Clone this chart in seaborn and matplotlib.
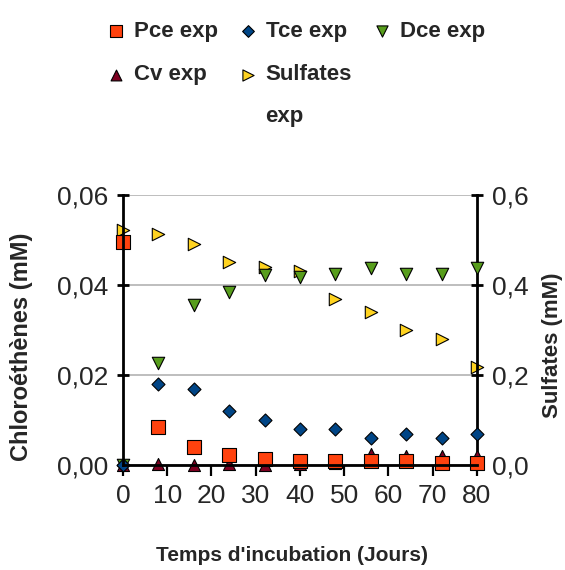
import matplotlib
matplotlib.use("Agg")
import matplotlib.pyplot as plt
import pandas as pd
import seaborn as sns

# data
days = [0, 8, 16, 24, 32, 40, 48, 56, 64, 72, 80]
pce = [0.0496, 0.0084, 0.0039, 0.0022, 0.0013, 0.0010, 0.0010, 0.0008, 0.0008, 0.0005, 0.0005]
tce = [0.0, 0.0179, 0.0170, 0.0120, 0.0100, 0.0079, 0.0079, 0.0061, 0.0069, 0.0061, 0.0069]
dce = [0.0, 0.0226, 0.0356, 0.0385, 0.0422, 0.0418, 0.0424, 0.0437, 0.0424, 0.0424, 0.0437]
cv = [0.0, 0.0002, 0.0001, 0.0002, 0.0, 0.0003, 0.0004, 0.0025, 0.0020, 0.0019, 0.0020]
sulfates = [0.522, 0.513, 0.490, 0.450, 0.439, 0.432, 0.370, 0.341, 0.300, 0.279, 0.218]

x_ticks = [0, 10, 20, 30, 40, 50, 60, 70, 80]
left_ticks = [0.0, 0.02, 0.04, 0.06]
left_labels = ["0,00", "0,02", "0,04", "0,06"]
right_ticks = [0.0, 0.2, 0.4, 0.6]
right_labels = ["0,0", "0,2", "0,4", "0,6"]

df = pd.DataFrame({
    "Jours": days,
    "Pce exp": pce,
    "Tce exp": tce,
    "Dce exp": dce,
    "Cv exp": cv,
    "Sulfates exp": sulfates,
})

sns.set_style("white")
plt.rcParams["font.family"] = ["Liberation Sans", "DejaVu Sans"]

fig = plt.figure(figsize=(5.65, 5.7), dpi=100)
ax = fig.add_axes([0.2177, 0.1842, 0.6265, 0.4737])
ax2 = ax.twinx()
ax.set_zorder(ax2.get_zorder() + 1)
ax.patch.set_visible(False)

edge = dict(edgecolor="black", linewidth=0.8, clip_on=False, legend=False)

# secondary axis: sulfates
sns.scatterplot(data=df, x="Jours", y="Sulfates exp", ax=ax2, marker=">",
                s=80, color="#ffd320", **edge)

# primary axis: chloroethenes
sns.scatterplot(data=df, x="Jours", y="Cv exp", ax=ax, marker="^",
                s=75, color="#7e0021", **edge)
sns.scatterplot(data=df, x="Jours", y="Dce exp", ax=ax, marker="v",
                s=80, color="#579d1c", **edge)
sns.scatterplot(data=df, x="Jours", y="Tce exp", ax=ax, marker="D",
                s=44, color="#004586", **edge)
sns.scatterplot(data=df, x="Jours", y="Pce exp", ax=ax, marker="s",
                s=88, color="#ff420e", **edge)

cv_h, dce_h, tce_h, pce_h = ax.collections[:4]
sulf_h = ax2.collections[0]

ax.set_xlim(0, 80)
ax.set_ylim(0, 0.06)
ax2.set_ylim(0, 0.6)
ax.set_xticks(x_ticks)
ax.set_yticks(left_ticks)
ax.set_yticklabels(left_labels)
ax2.set_yticks(right_ticks)
ax2.set_yticklabels(right_labels)

ax2.yaxis.grid(True, color="#b3b3b3", linewidth=1.2)
ax.grid(False)

for s in ["top", "right"]:
    ax.spines[s].set_visible(False)
for s in ["top", "left", "bottom"]:
    ax2.spines[s].set_visible(False)
for sp in [ax.spines["left"], ax.spines["bottom"], ax2.spines["right"]]:
    sp.set_color("black")
    sp.set_linewidth(2)

ax.tick_params(axis="x", direction="out", length=8, width=1.6, color="black",
               labelsize=19, pad=6, bottom=True)
ax.tick_params(axis="y", direction="inout", length=9, width=2, color="black",
               labelsize=19, pad=6, left=True)
ax2.tick_params(axis="y", direction="inout", length=9, width=2, color="black",
                labelsize=19, pad=6, right=True)

ax.set_xlabel("Temps d'incubation (Jours)", fontsize=15, fontweight="bold")
ax.set_ylabel("Chloroéthènes (mM)", fontsize=17, fontweight="bold")
ax2.set_ylabel("Sulfates (mM)", fontsize=16, fontweight="bold")
ax.xaxis.set_label_coords(0.477, -0.30)
ax.yaxis.set_label_coords(-0.254, 0.437)
ax2.yaxis.set_label_coords(1.185, 0.444)

leg = fig.legend(handles=[pce_h, cv_h, tce_h, sulf_h, dce_h],
                 labels=["Pce exp", "Cv exp", "Tce exp", "Sulfates", "Dce exp"],
                 ncol=3, loc="upper center", bbox_to_anchor=(0.522, 0.998),
                 frameon=False, prop={"size": 16, "weight": "bold"},
                 handlelength=1.0, handletextpad=0.3, columnspacing=0.85,
                 labelspacing=1.0, markerscale=0.9)

fig.canvas.draw()
sulf_text = [t for t in leg.get_texts() if t.get_text() == "Sulfates"][0]
bb = sulf_text.get_window_extent()
fig.text(bb.x0 / fig.bbox.width, (bb.y0 - 42) / fig.bbox.height, "exp",
         fontsize=16, fontweight="bold", va="bottom", ha="left")

plt.savefig("out.png", dpi=100)
